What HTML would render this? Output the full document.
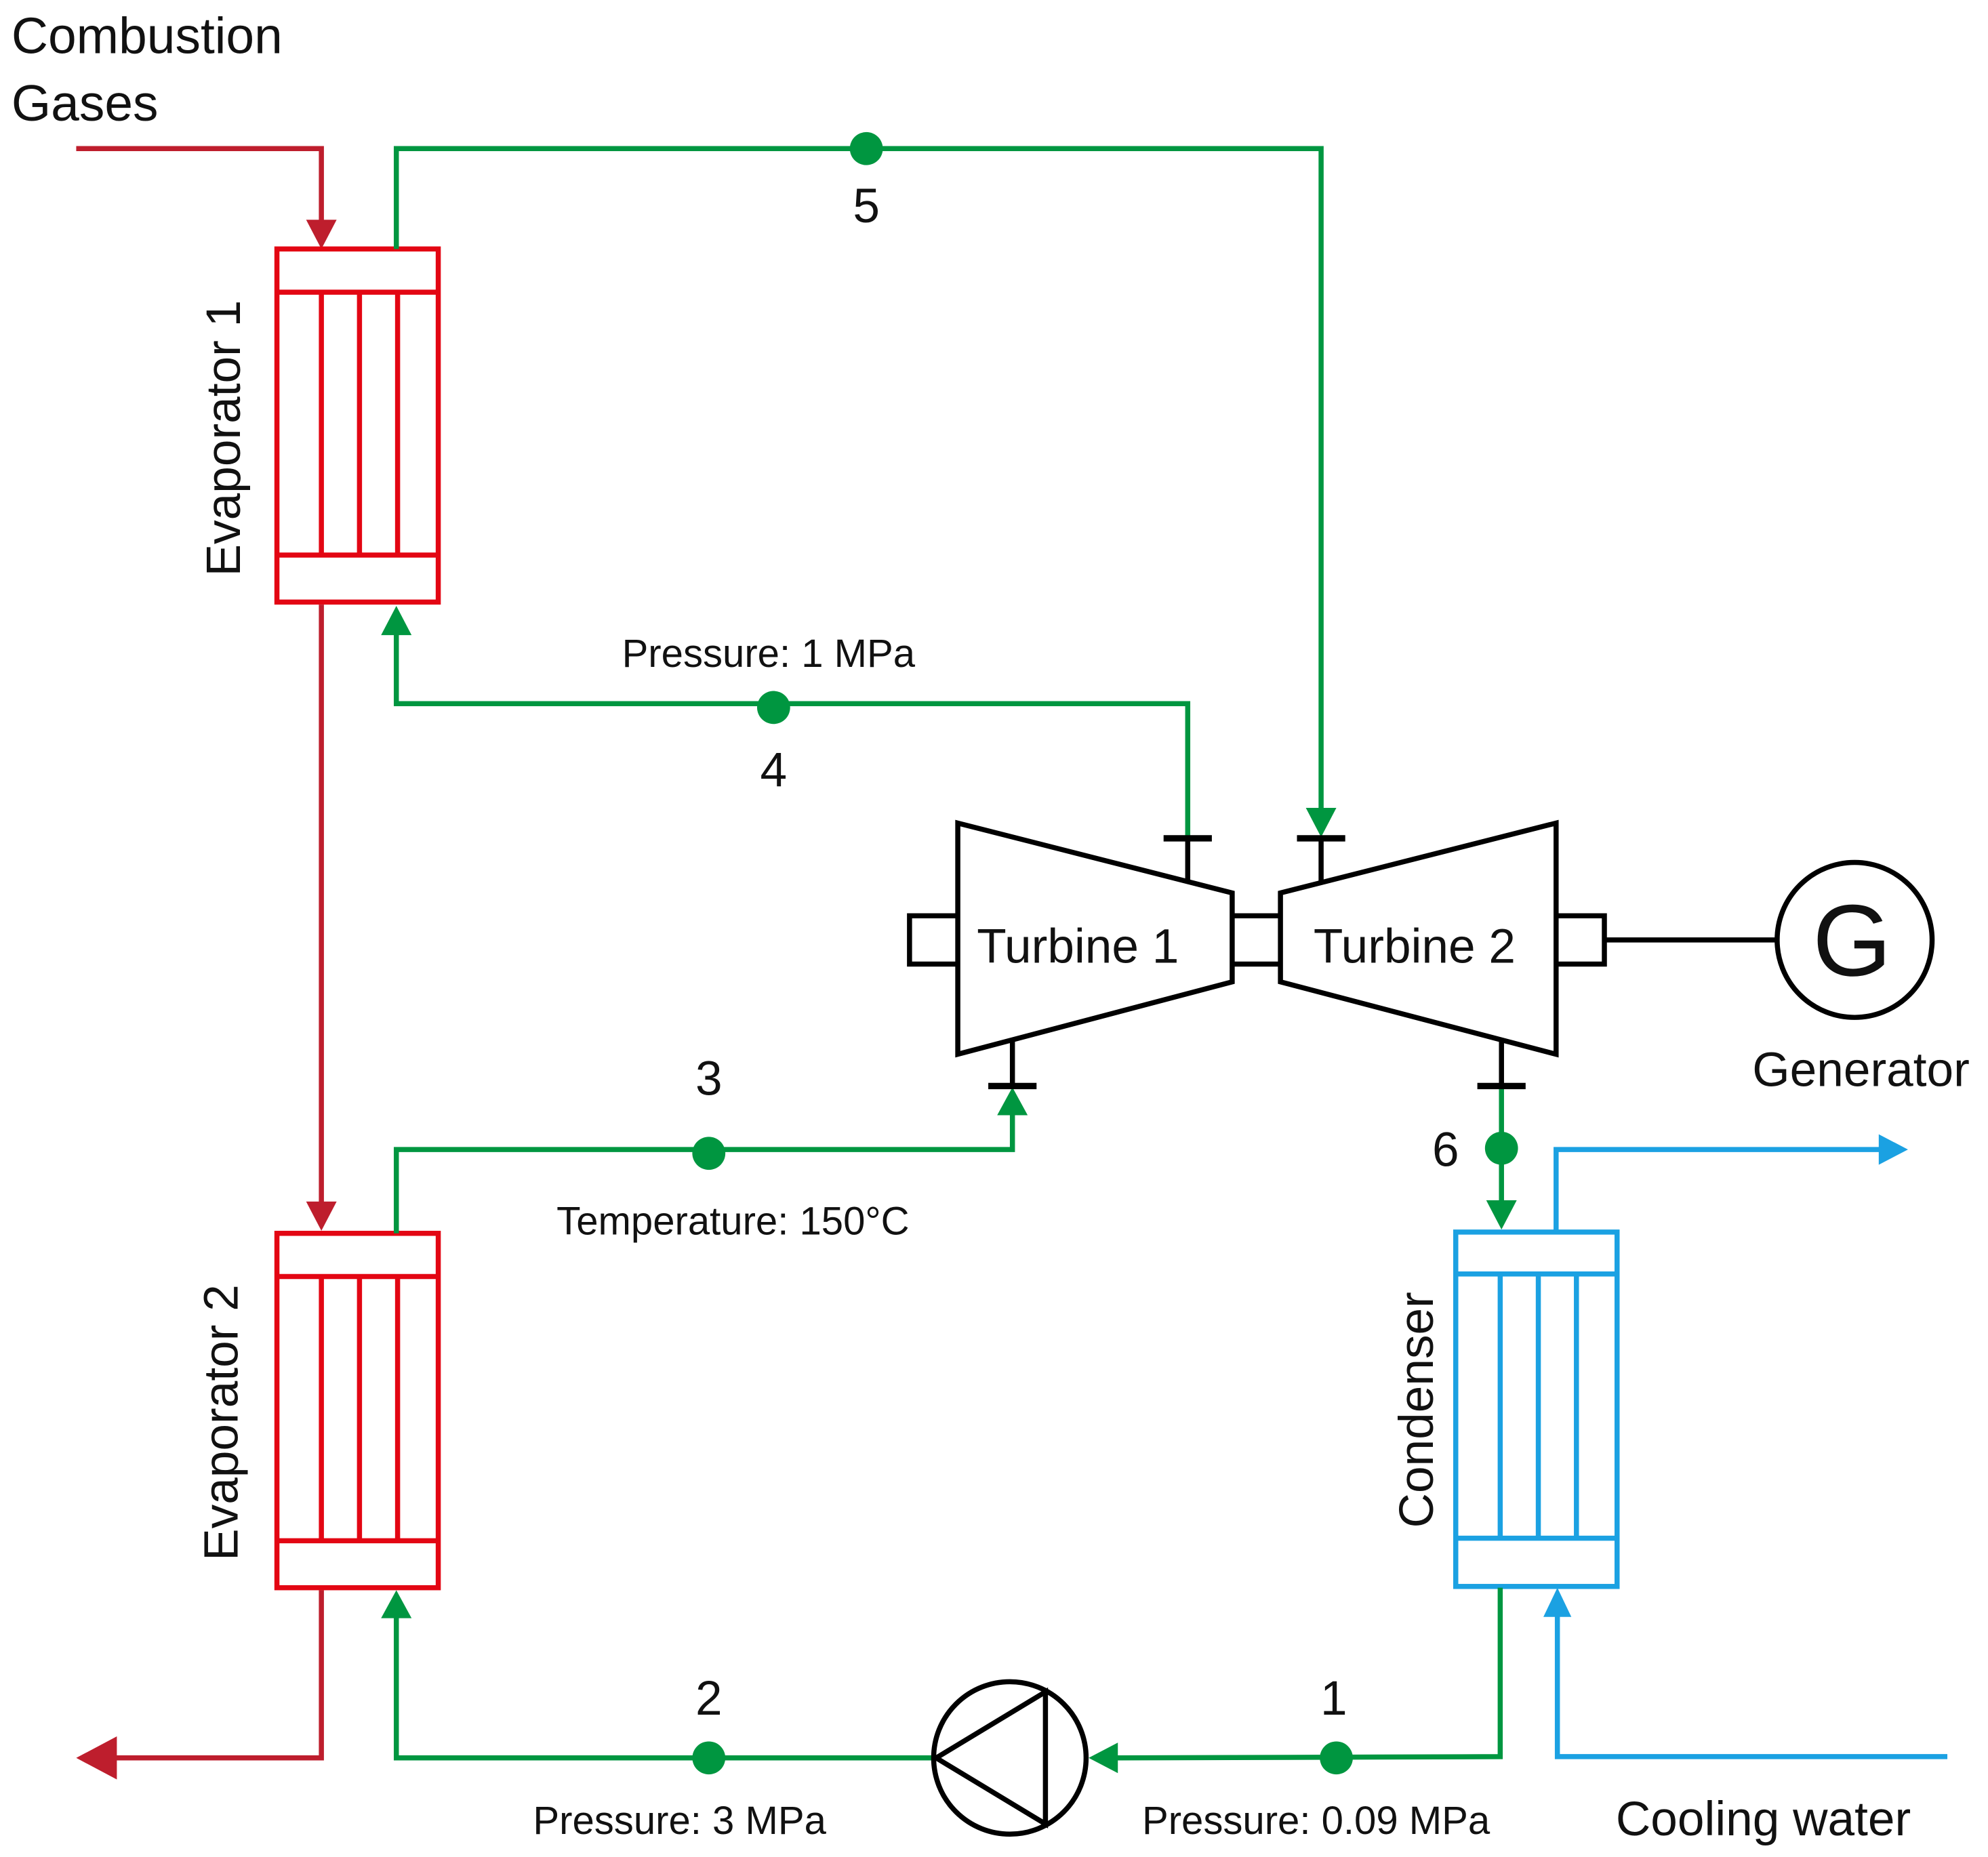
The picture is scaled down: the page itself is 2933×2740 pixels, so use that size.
<!DOCTYPE html>
<html><head><meta charset="utf-8"><style>html,body{margin:0;padding:0;background:#fff}svg{display:block}text{font-family:"Liberation Sans",sans-serif;fill:#111}</style></head>
<body>
<svg width="2933" height="2740" viewBox="0 0 1565 1462" xmlns="http://www.w3.org/2000/svg">
<rect width="1565" height="1462" fill="#fff"/>
<g font-size="40">
<text x="9" y="42">Combustion</text>
<text x="9" y="95">Gases</text>
</g>
<!-- red gas lines -->
<g stroke="#be1e2d" stroke-width="4" fill="none">
<polyline points="60,117 253,117 253,178"/>
<line x1="253" y1="476" x2="253" y2="950"/>
<polyline points="253,1252 253,1384 85,1384"/>
</g>
<g fill="#be1e2d">
<polygon points="241,173 265,173 253,196"/>
<polygon points="241,946 265,946 253,969"/>
<polygon points="60,1384 92,1367 92,1401"/>
</g>
<!-- evaporators -->
<g stroke="#e30613" stroke-width="4" fill="none">
<rect x="218" y="196" width="127" height="278"/>
<line x1="218" y1="230" x2="345" y2="230"/><line x1="218" y1="437" x2="345" y2="437"/>
<line x1="253" y1="230" x2="253" y2="437"/><line x1="283" y1="230" x2="283" y2="437"/><line x1="313" y1="230" x2="313" y2="437"/>
<rect x="218" y="971" width="127" height="279"/>
<line x1="218" y1="1005" x2="345" y2="1005"/><line x1="218" y1="1213" x2="345" y2="1213"/>
<line x1="253" y1="1005" x2="253" y2="1213"/><line x1="283" y1="1005" x2="283" y2="1213"/><line x1="313" y1="1005" x2="313" y2="1213"/>
</g>
<!-- condenser -->
<g stroke="#1ba1e2" stroke-width="4" fill="none">
<rect x="1146" y="970" width="127" height="279"/>
<line x1="1146" y1="1003" x2="1273" y2="1003"/><line x1="1146" y1="1211" x2="1273" y2="1211"/>
<line x1="1181" y1="1003" x2="1181" y2="1211"/><line x1="1211" y1="1003" x2="1211" y2="1211"/><line x1="1241" y1="1003" x2="1241" y2="1211"/>
<polyline points="1225,970 1225,905 1482,905"/>
<polyline points="1533,1383 1226,1383 1226,1270"/>
</g>
<g fill="#1ba1e2">
<polygon points="1502,905 1479,893 1479,917"/>
<polygon points="1226,1250 1215,1273 1237,1273"/>
</g>
<!-- green lines -->
<g stroke="#009640" stroke-width="4" fill="none">
<polyline points="312,196 312,117 1040,117 1040,640"/>
<polyline points="312,497 312,554 935,554 935,660"/>
<polyline points="312,971 312,905 797,905 797,875"/>
<polyline points="1182,855 1182,948"/>
<polyline points="1181,1250 1181,1383 878,1384"/>
<polyline points="735,1384 312,1384 312,1272"/>
</g>
<g fill="#009640">
<polygon points="1028,636 1052,636 1040,659"/>
<polygon points="300,500 324,500 312,477"/>
<polygon points="785,878 809,878 797,856"/>
<polygon points="1170,945 1194,945 1182,968"/>
<polygon points="857,1384 880,1372 880,1396"/>
<polygon points="300,1274 324,1274 312,1252"/>
<circle cx="682" cy="117" r="13"/>
<circle cx="609" cy="557" r="13"/>
<circle cx="558" cy="908" r="13"/>
<circle cx="1182" cy="904" r="13"/>
<circle cx="1052" cy="1384" r="13"/>
<circle cx="558" cy="1384" r="13"/>
</g>
<!-- turbines -->
<g stroke="#000" stroke-width="4" fill="none">
<polygon points="754,648 970,703 970,773 754,830"/>
<polygon points="1008,703 1225,648 1225,830 1008,773"/>
<polyline points="754,721 716,721 716,759 754,759"/>
<line x1="970" y1="721" x2="1008" y2="721"/><line x1="970" y1="759" x2="1008" y2="759"/>
<polyline points="1225,721 1263,721 1263,759 1225,759"/>
<line x1="1263" y1="740" x2="1399" y2="740"/>
<circle cx="1460" cy="740" r="61"/>
<line x1="935" y1="660" x2="935" y2="694"/><line x1="916" y1="660" x2="954" y2="660" stroke-width="5"/>
<line x1="1040" y1="660" x2="1040" y2="695"/><line x1="1021" y1="660" x2="1059" y2="660" stroke-width="5"/>
<line x1="797" y1="820" x2="797" y2="855"/><line x1="778" y1="855" x2="816" y2="855" stroke-width="5"/>
<line x1="1182" y1="818" x2="1182" y2="855"/><line x1="1163" y1="855" x2="1201" y2="855" stroke-width="5"/>
<circle cx="795" cy="1384" r="60"/>
<polygon points="737,1384 823,1332 823,1436"/>
</g>
<g font-size="38">
<text x="769" y="758">Turbine 1</text>
<text x="1034" y="758">Turbine 2</text>
<text x="1458" y="768" font-size="80" text-anchor="middle">G</text>
<text x="1465" y="855" text-anchor="middle">Generator</text>
<text x="1272" y="1445">Cooling water</text>
<text x="682" y="175" text-anchor="middle">5</text>
<text x="609" y="619" text-anchor="middle">4</text>
<text x="558" y="862" text-anchor="middle">3</text>
<text x="1138" y="918" text-anchor="middle">6</text>
<text x="558" y="1350" text-anchor="middle">2</text>
<text x="1050" y="1350" text-anchor="middle">1</text>
<text transform="translate(189,345) rotate(-90)" text-anchor="middle">Evaporator 1</text>
<text transform="translate(187,1120) rotate(-90)" text-anchor="middle">Evaporator 2</text>
<text transform="translate(1128,1110) rotate(-90)" text-anchor="middle">Condenser</text>
</g>
<g font-size="31">
<text x="605" y="525" text-anchor="middle">Pressure: 1 MPa</text>
<text x="577" y="972" text-anchor="middle">Temperature: 150°C</text>
<text x="535" y="1444" text-anchor="middle">Pressure: 3 MPa</text>
<text x="1036" y="1444" text-anchor="middle">Pressure: 0.09 MPa</text>
</g>
</svg>
</body></html>
